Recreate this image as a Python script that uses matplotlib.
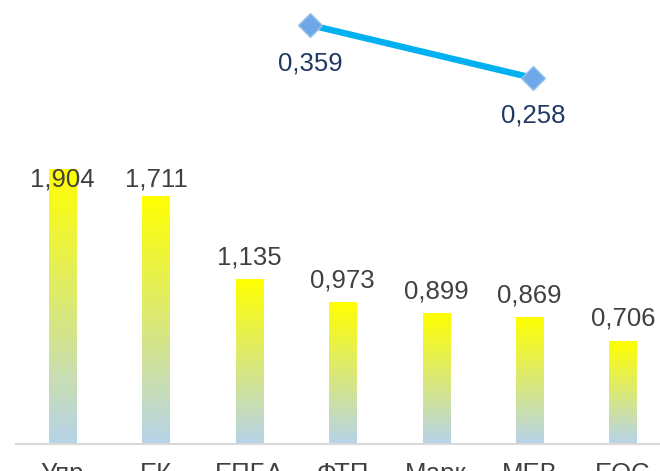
import matplotlib
matplotlib.use('Agg')
import matplotlib.pyplot as plt
import numpy as np
from matplotlib.colors import LinearSegmentedColormap

plt.rcParams['font.family'] = ['Liberation Sans', 'DejaVu Sans']

# ---------------------------------------------------------------------------- #

categories = ['Упр', 'ЕК', 'ЕПБА', 'ФТП', 'Марк', 'МЕВ', 'ЕОС']
bar_values = [1.904, 1.711, 1.135, 0.973, 0.899, 0.869, 0.706]

line_x = [2.65, 5.04]
line_values = [0.359, 0.258]

# ---------------------------------------------------------------------------- #

W, H = 660, 471
fig = plt.figure(figsize=(W/100, H/100), dpi=100)

base_px = 443.5
left_px = 15.8
step_px = 93.4
ax = fig.add_axes([left_px/W, (H-base_px)/H, 7*step_px/W, base_px/H])

cmap = LinearSegmentedColormap.from_list('grad', ['#b7d3e9', '#ffff00'])
grad = np.linspace(0, 1, 256).reshape(-1, 1)
width = 0.29
pad = 0.111
label_cap = 1.785
fs = 18.5

for i, v in enumerate(bar_values):
    ax.imshow(grad, cmap=cmap, origin='lower', aspect='auto',
              extent=(i-width/2, i+width/2, 0, v), zorder=2)
    ax.text(i, min(v + pad, label_cap), ('%.3f' % v).replace('.', ','),
            ha='center', va='baseline', fontsize=fs, color='#404040', zorder=5)

ax.set_xlim(-0.5, 6.5)
ax.set_ylim(0, base_px/143.9)
ax.set_xticks(range(len(categories)))
ax.set_xticklabels(categories, fontsize=fs, color='#404040')
ax.tick_params(axis='x', length=0, pad=13.5)
ax.set_yticks([])
for s in ['top', 'left', 'right']:
    ax.spines[s].set_visible(False)
ax.spines['bottom'].set_color('#d9d9d9')
ax.spines['bottom'].set_linewidth(1.5)

ax2 = ax.twinx()
ax2.set_ylim(0.359 - (base_px-25)/524.75, 0.359 + 25/524.75)
ax2.plot(line_x, line_values, color='#00b0f0', linewidth=4.6,
         marker='D', markersize=12, markerfacecolor='#6fa8e6',
         markeredgecolor='#9cc3ee', markeredgewidth=1, zorder=3)
for x, v in zip(line_x, line_values):
    ax2.annotate(('%.3f' % v).replace('.', ','), (x, v), xytext=(0, -32.4),
                 textcoords='offset points', ha='center', va='baseline',
                 fontsize=fs, color='#1f3864')
ax2.set_yticks([])
for s in ax2.spines.values():
    s.set_visible(False)

fig.savefig('out.png', dpi=100)
